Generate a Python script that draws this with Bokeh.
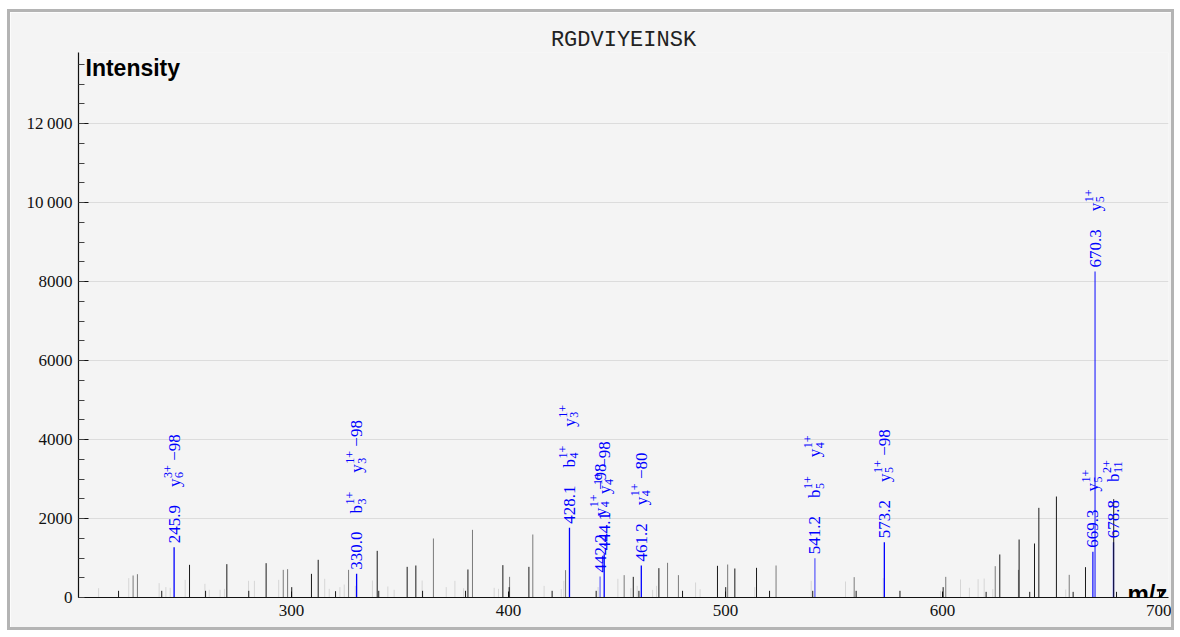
import math
from bokeh.plotting import figure
from bokeh.models import Range1d, Label, FixedTicker, ColumnDataSource
from bokeh.core.properties import value
from bokeh.embed import file_html
from bokeh.resources import INLINE

# ---------------- data ----------------
title_text = "RGDVIYEINSK"
x_label = "m/z"
y_label = "Intensity"
x_ticks = [300, 400, 500, 600, 700]
y_ticks = [0, 2000, 4000, 6000, 8000, 10000, 12000]
y_tick_labels = ["0", "2000", "4000", "6000", "8000", "10\u2009000", "12\u2009000"]

dark_mz = [220.3, 240.2, 253.0, 260.4, 270.2, 280.3, 288.3, 300.1, 309.2, 312.3,
           320.3, 339.5, 340.2, 353.3, 357.3, 360.4, 380.2, 381.3, 397.4, 400.3,
           409.4, 420.1, 440.4, 457.5, 460.1, 469.3, 480.2, 496.3, 500.1, 504.3,
           514.3, 520.3, 540.2, 560.2, 580.4, 600.3, 620.1, 626.4, 635.3, 640.2,
           642.4, 644.4, 652.5, 660.2, 665.9, 678.9, 680.2]
dark_int = [169, 169, 827, 169, 844, 169, 869, 262, 599, 954,
            160, 1181, 169, 776, 810, 169, 169, 709, 819, 262,
            776, 169, 169, 523, 169, 743, 169, 802, 262, 734,
            751, 169, 169, 169, 169, 262, 143, 1089, 1468, 143,
            1367, 2270, 2557, 143, 768, 2490, 143]

mid_mz = [227.0, 229.0, 296.2, 298.2, 326.3, 365.4, 383.4, 400.5, 411.2, 426.3,
          453.3, 473.3, 478.3, 501.0, 523.3, 559.3, 601.5, 624.3, 635.0, 658.4]
mid_int = [557, 590, 700, 717, 700, 1494, 1713, 523, 1595, 692,
           566, 878, 566, 835, 810, 515, 523, 793, 700, 574]

light_mz = [211.1, 225.0, 239.0, 242.1, 244.1, 251.0, 260.1, 262.1, 267.1, 269.1,
            280.2, 282.9, 294.1, 315.3, 317.4, 322.3, 324.3, 329.4, 337.3, 344.4,
            347.3, 360.2, 371.3, 375.3, 379.3, 393.4, 395.4, 416.4, 424.3, 425.5,
            441.3, 450.4, 456.4, 459.3, 466.4, 468.2, 486.2, 488.3, 513.5, 539.5,
            555.3, 572.7, 599.1, 608.3, 612.4, 616.4, 619.2, 623.2, 656.8]
light_int = [236, 490, 363, 262, 245, 447, 346, 195, 195, 219,
             422, 422, 447, 473, 219, 262, 329, 295, 430, 278,
             195, 430, 262, 422, 236, 245, 219, 295, 211, 422,
             262, 473, 236, 295, 195, 295, 380, 211, 262, 422,
             405, 490, 169, 456, 245, 464, 480, 211, 203]

ann_mz = [245.9, 330.0, 428.1, 442.2, 444.1, 461.2, 541.2, 573.2, 669.3, 670.3, 678.8]
ann_int = [1274, 599, 1764, 532, 1097, 810, 996, 1401, 1156, 8253, 1400]
ann_text = ["245.9", "330.0", "428.1", "442.2", "444.1", "461.2", "541.2", "573.2",
            "669.3", "670.3", "678.8"]
# ion labels: (ion letter, charge superscript, index subscript, suffix)
ann_ions = [
    [("y", "3+", "6", "\u2009\u221298")],
    [("b", "1+", "3", ""), ("y", "1+", "3", "\u2009\u221298")],
    [("b", "1+", "4", ""), ("y", "1+", "3", "")],
    [("y", "1+", "4", "\u2009\u221298")],
    [("y", "1+", "4", "\u2009\u221298")],
    [("y", "1+", "4", "\u2009\u221280")],
    [("b", "1+", "5", ""), ("y", "1+", "4", "")],
    [("y", "1+", "5", "\u2009\u221298")],
    [("y", "1+", "5", "")],
    [("y", "1+", "5", "")],
    [("b", "2+", "11", "")],
]

# ---------------- style ----------------
BG = "#f4f4f4"
BLUE = "#0000ff"
SERIF = "Liberation Serif"
ann_alpha = [1, 1, 1, 0.55, 1, 1, 0.6, 1, 0.9, 0.75, 1]
X0, X1, Y1 = 201.84, 704.15, 13800

p = figure(width=1167, height=621, output_backend="svg", toolbar_location=None,
           x_range=Range1d(X0, X1), y_range=Range1d(0, Y1),
           min_border_left=68, min_border_right=9, min_border_top=40, min_border_bottom=36)
p.styles = {"border": "3px solid #b4b4b4", "margin-left": "7px", "margin-top": "9px"}
p.background_fill_color = BG
p.border_fill_color = BG
p.outline_line_color = None

p.title.text = title_text
p.title.align = "center"
p.title.text_font = "Liberation Mono"
p.title.text_font_size = "22px"
p.title.text_font_style = "normal"
p.title.text_color = "#222222"
p.title.standoff = 0

p.xgrid.visible = False
p.ygrid.grid_line_color = "#dcdcdc"
p.ygrid.grid_line_width = 1

p.xaxis.ticker = FixedTicker(ticks=x_ticks)
p.yaxis.ticker = FixedTicker(ticks=y_ticks, minor_ticks=list(range(0, 14000, 500)))
p.yaxis.major_label_overrides = dict(zip(y_ticks, y_tick_labels))
for ax in (p.xaxis[0], p.yaxis[0]):
    ax.axis_line_color = "#111111"
    ax.axis_line_width = 1.2
    ax.major_tick_line_color = "#111111"
    ax.minor_tick_line_color = "#444444"
    ax.major_tick_out = 0
    ax.minor_tick_out = 0
    ax.major_label_text_font = SERIF
    ax.major_label_text_font_size = "17px"
    ax.major_label_text_color = "#111111"
p.xaxis.major_tick_in = 6
p.xaxis.minor_tick_in = 0
p.xaxis.major_label_standoff = 7
p.yaxis.major_tick_in = 10
p.yaxis.minor_tick_in = 6
p.yaxis.major_label_standoff = 6

# peaks
p.segment(x0=light_mz, y0=[0] * len(light_mz), x1=light_mz, y1=light_int,
          line_color="#d6d6d6", line_width=1)
p.segment(x0=mid_mz, y0=[0] * len(mid_mz), x1=mid_mz, y1=mid_int,
          line_color="#7a7a7a", line_width=1)
p.segment(x0=ann_mz, y0=[0] * len(ann_mz), x1=ann_mz, y1=ann_int,
          line_color=BLUE, line_alpha=ann_alpha, line_width=1.3)
p.segment(x0=dark_mz, y0=[0] * len(dark_mz), x1=dark_mz, y1=dark_int,
          line_color="#1a1a1a", line_width=1)

# annotation labels (rotated, stacked above each annotated peak)
FS, SS = 17, 12
W = {".": 0.25, "+": 0.564, "\u2212": 0.564, "\u2009": 0.2, "y": 0.5, "b": 0.5}


def tw(s, size):
    return sum(W.get(c, 0.5) for c in s) * size


big = dict(x=[], y=[], t=[], yo=[])
small = dict(x=[], y=[], t=[], yo=[], xo=[])
for mz, it, lab, ions in zip(ann_mz, ann_int, ann_text, ann_ions):
    cur = 4
    big["x"].append(mz); big["y"].append(it); big["t"].append(lab); big["yo"].append(-cur)
    cur += tw(lab, FS) + 18
    for base, sup, sub, suf in ions:
        big["x"].append(mz); big["y"].append(it); big["t"].append(base); big["yo"].append(-cur)
        cur += tw(base, FS) + 0.5
        small["x"] += [mz, mz]; small["y"] += [it, it]; small["t"] += [sup, sub]
        small["yo"] += [-cur, -cur]; small["xo"] += [-6.5, 5]
        cur += max(tw(sup, SS), tw(sub, SS)) + 1
        if suf:
            big["x"].append(mz); big["y"].append(it); big["t"].append(suf); big["yo"].append(-cur)
            cur += tw(suf, FS)
        cur += 18

p.text(x="x", y="y", text="t", y_offset="yo", source=ColumnDataSource(big),
       angle=math.pi / 2, text_align="left", text_baseline="middle",
       text_font=value(SERIF), text_font_size="17px", text_color=BLUE)
p.text(x="x", y="y", text="t", y_offset="yo", x_offset="xo", source=ColumnDataSource(small),
       angle=math.pi / 2, text_align="left", text_baseline="middle",
       text_font=value(SERIF), text_font_size="12px", text_color=BLUE)

# axis names inside the frame
p.add_layout(Label(x=X0, y=Y1, text=y_label, x_offset=7, y_offset=-2,
                   text_baseline="top", text_align="left",
                   text_font="Liberation Sans", text_font_style="bold",
                   text_font_size="23px", text_color="#000000"))
p.add_layout(Label(x=X1, y=0, text=x_label, x_offset=-1, y_offset=4,
                   text_baseline="alphabetic", text_align="right",
                   text_font="Liberation Sans", text_font_style="bold",
                   text_font_size="24px", text_color="#000000"))

open("out.html", "w").write(file_html(p, INLINE))
